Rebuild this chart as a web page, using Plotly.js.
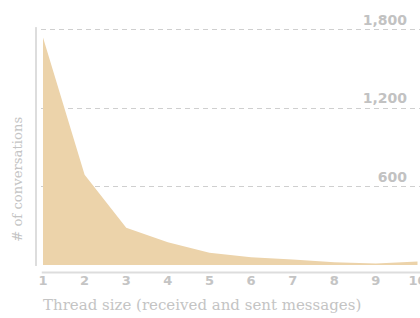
<!DOCTYPE html>
<html>
<head>
<meta charset="utf-8">
<script src="https://cdn.plot.ly/plotly-3.0.1.min.js"></script>
<style>html,body{margin:0;padding:0;background:#fff;}#chart{width:420px;height:318px;}</style>
</head>
<body>
<div id="chart"></div>
<script>
// Data
const threadSizes = [1, 2, 3, 4, 5, 6, 7, 8, 9, 10];
const conversations = [1740, 690, 285, 174, 93, 60, 42, 21, 11, 27];
const yTickValues = [600, 1200, 1800];
const yTickLabels = ['600', '1,200', '1,800'];
const xTickLabels = ['1', '2', '3', '4', '5', '6', '7', '8', '9', '10'];
const xTitle = 'Thread size (received and sent messages)';
const yTitle = '# of conversations';

const xTickFont = {family: 'DejaVu Sans', size: 13, color: '#c4c4c4', weight: 700};
const yTickFont = {family: 'DejaVu Sans', size: 14, color: '#c2c2c2', weight: 700};
const xTitleFont = {family: 'DejaVu Serif', size: 15, color: '#c4c4c4'};
const yTitleFont = {family: 'DejaVu Serif', size: 13.2, color: '#c4c4c4'};

const trace = {
  x: threadSizes,
  y: conversations,
  type: 'scatter',
  mode: 'lines',
  fill: 'tozeroy',
  fillcolor: '#ecd3aa',
  line: {width: 0, color: '#ecd3aa'},
  hoverinfo: 'skip'
};

const layout = {
  width: 420,
  height: 318,
  margin: {l: 41, r: 0, t: 23, b: 53},
  paper_bgcolor: '#ffffff',
  plot_bgcolor: '#ffffff',
  showlegend: false,
  xaxis: {
    range: [0.952, 10.06],
    tickvals: threadSizes,
    ticktext: xTickLabels,
    showgrid: false,
    zeroline: false,
    showline: false,
    ticks: '',
    tickfont: xTickFont,
    ticklabelstandoff: 6,
    ticklabeloverflow: 'allow'
  },
  yaxis: {
    range: [0, 1850],
    side: 'right',
    tickvals: yTickValues,
    ticktext: yTickLabels,
    ticklabelposition: 'inside top',
    ticklabeloverflow: 'allow',
    showgrid: true,
    gridcolor: '#cfcfcf',
    gridwidth: 1,
    griddash: '5px,4px',
    zeroline: false,
    showline: false,
    ticks: '',
    tickfont: yTickFont,
    ticklabelstandoff: 10
  },
  shapes: [
    {type: 'line', xref: 'paper', yref: 'paper', x0: -0.0132, x1: -0.0132, y0: -0.004, y1: 0.983,
     line: {color: '#dddddd', width: 2}},
    {type: 'line', xref: 'paper', yref: 'paper', x0: 0.002, x1: 1, y0: -0.031, y1: -0.031,
     line: {color: '#dddddd', width: 2}}
  ],
  annotations: [
    {text: xTitle, xref: 'paper', yref: 'paper', x: 0.0, y: -0.165, xanchor: 'left', yanchor: 'middle',
     showarrow: false, font: xTitleFont},
    {text: yTitle, xref: 'paper', yref: 'paper', x: -0.064, y: 0.355, xanchor: 'center', yanchor: 'middle',
     textangle: -90, showarrow: false, font: yTitleFont}
  ]
};

Plotly.newPlot('chart', [trace], layout, {displayModeBar: false, staticPlot: true});
</script>
</body>
</html>
